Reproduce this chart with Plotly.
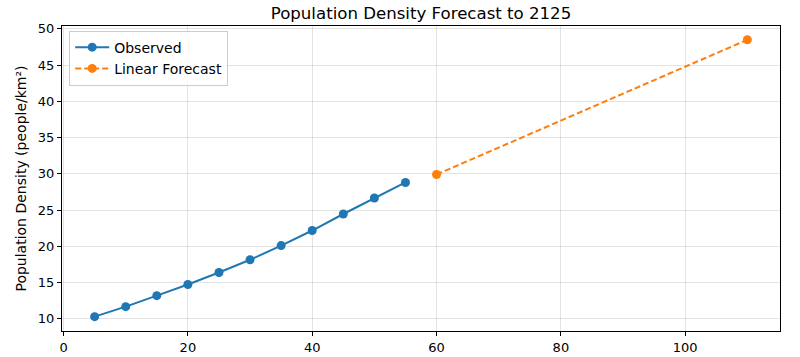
import plotly.graph_objects as go

obs_x = [5, 10, 15, 20, 25, 30, 35, 40, 45, 50, 55]
obs_y = [10.28, 11.66, 13.18, 14.72, 16.38, 18.13, 20.09, 22.17, 24.45, 26.66, 28.8]
fc_x = [60, 110]
fc_y = [29.9, 48.5]
x_ticks = [0, 20, 40, 60, 80, 100]
y_ticks = [10, 15, 20, 25, 30, 35, 40, 45, 50]

blue = "#1f77b4"
orange = "#ff7f0e"
font = "DejaVu Sans"

fig = go.Figure()
fig.add_trace(go.Scatter(x=obs_x, y=obs_y, mode="lines+markers", name="Observed",
                         line=dict(color=blue, width=2), marker=dict(size=9, color=blue)))
fig.add_trace(go.Scatter(x=fc_x, y=fc_y, mode="lines+markers", name="Linear Forecast",
                         line=dict(color=orange, width=2, dash="6px,3px"),
                         marker=dict(size=9, color=orange)))

axis_common = dict(showline=True, linecolor="black", linewidth=1, mirror=True,
                   ticks="outside", ticklen=4, tickcolor="black", automargin=False,
                   showgrid=True, gridcolor="rgba(176,176,176,0.35)", gridwidth=1,
                   zeroline=False, tickfont=dict(family=font, size=13, color="black"))

fig.update_layout(
    width=800, height=357,
    margin=dict(l=62, r=20, t=26, b=26, autoexpand=False),
    paper_bgcolor="white", plot_bgcolor="white",
    title=dict(text="Population Density Forecast to 2125", x=0.5, xref="paper", xanchor="center",
               y=1 - 13 / 357, yref="container", yanchor="middle", automargin=False,
               font=dict(family=font, size=16.6, color="black")),
    xaxis=dict(range=[-0.25, 115.25], tickvals=x_ticks, **axis_common),
    yaxis=dict(range=[8.3, 50.4], tickvals=y_ticks,
               title=dict(text="Population Density (people/km²)", standoff=7,
                          font=dict(family=font, size=14, color="black")),
               **axis_common),
    legend=dict(x=0.01, y=0.985, xanchor="left", yanchor="top",
                bgcolor="rgba(255,255,255,0.8)", bordercolor="#cccccc", borderwidth=1,
                font=dict(family=font, size=14, color="black"),
                itemwidth=34, tracegroupgap=0),
    showlegend=True,
)

fig.write_html("out.html", config={"displayModeBar": False},
               post_script="document.body.style.margin='0';")
